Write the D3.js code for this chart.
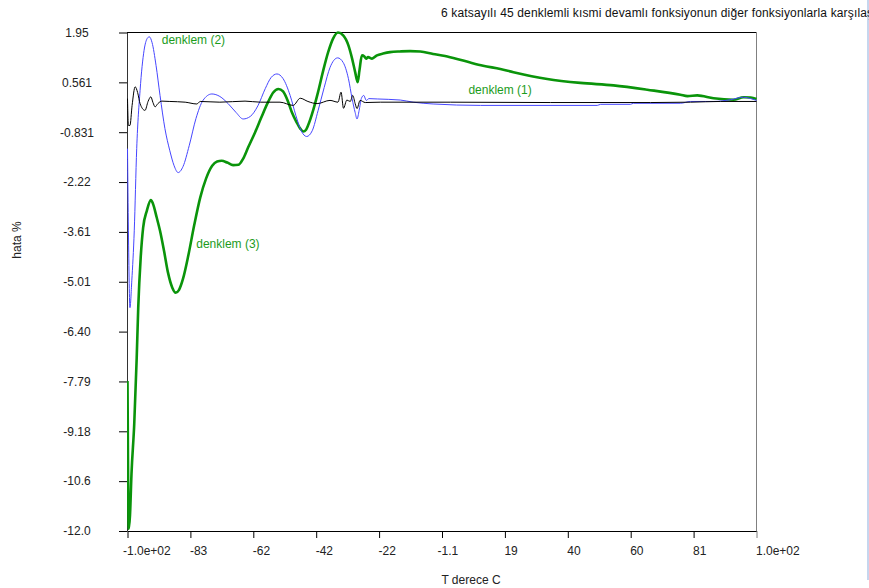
<!DOCTYPE html>
<html>
<head>
<meta charset="utf-8">
<script src="https://cdn.jsdelivr.net/npm/d3@7"></script>
<style>
  body { margin: 0; background: #fff; }
  svg text { font-family: "Liberation Sans", Arial, sans-serif; font-size: 12px; }
</style>
</head>
<body>
<div id="chart"></div>
<script>
// tick labels as printed on the chart
const xTickLabels = ["-1.0e+02", "-83", "-62", "-42", "-22", "-1.1", "19", "40", "60", "81", "1.0e+02"];
const yTickLabels = ["1.95", "0.561", "-0.831", "-2.22", "-3.61", "-5.01", "-6.40", "-7.79", "-9.18", "-10.6", "-12.0"];
const xDomain = [-103.6, 101.4];
const yDomain = [-12.0, 1.95];

const title = "6 katsayılı 45 denklemli kısmi devamlı fonksiyonun diğer fonksiyonlarla karşılaştırılması";

// denklem (1) - black
const denklem1 = [
  [-103.6, 0.10], [-103.3, -0.65], [-102.8, -0.65], [-102.1, -0.09], [-101.1, 0.43],
  [-100.3, 0.27], [-99.5, -0.04], [-97.9, -0.23], [-96.9, 0.02], [-96.0, 0.15],
  [-95.3, -0.01], [-94.6, -0.13], [-93.7, -0.04], [-92.4, 0.03], [-89.8, 0.02],
  [-84.8, 0.00], [-81.0, -0.05], [-79.9, 0.02], [-73.5, 0.00], [-65.3, 0.03],
  [-60.3, 0.00], [-53.9, 0.00], [-49.6, -0.09], [-47.3, 0.11], [-44.8, 0.02],
  [-41.8, -0.04], [-37.6, 0.05], [-35.0, 0.00], [-34.0, 0.28], [-33.2, -0.17],
  [-32.1, 0.06], [-31.0, 0.02], [-30.2, 0.19], [-29.4, -0.04], [-28.8, -0.18],
  [-27.8, 0.05], [-26.1, -0.01], [-21.2, 0.00], [1.6, 0.00], [34.2, -0.01],
  [66.9, -0.01], [79.9, 0.00], [89.6, 0.02], [101.4, 0.02]
];

// denklem (2) - blue
const denklem2 = [
  [-103.6, -1.30], [-103.3, -3.60], [-102.8, -5.75], [-102.2, -5.00], [-101.4, -3.60],
  [-100.6, -1.30], [-99.5, 0.33], [-98.2, 1.45], [-97.2, 1.78], [-96.5, 1.83],
  [-95.6, 1.67], [-94.3, 1.03], [-93.0, 0.19], [-91.4, -0.74], [-89.8, -1.36],
  [-88.4, -1.78], [-87.1, -1.97], [-85.5, -1.80], [-83.5, -1.22], [-81.3, -0.46],
  [-79.0, 0.05], [-76.1, 0.23], [-73.5, 0.16], [-70.8, -0.04], [-68.2, -0.29],
  [-65.9, -0.47], [-63.6, -0.40], [-61.1, -0.10], [-58.7, 0.38], [-56.8, 0.69],
  [-54.9, 0.79], [-52.9, 0.66], [-50.6, 0.19], [-48.7, -0.38], [-47.0, -0.80],
  [-45.2, -0.96], [-43.4, -0.80], [-41.5, -0.24], [-39.5, 0.41], [-37.6, 0.97],
  [-35.1, 1.24], [-33.3, 1.11], [-31.6, 0.66], [-30.4, 0.10], [-29.4, -0.29],
  [-28.8, -0.47], [-28.1, -0.23], [-27.4, 0.10], [-26.6, 0.19], [-25.8, 0.05],
  [-24.9, 0.10], [-22.2, 0.09], [-14.7, 0.06], [-10.5, 0.00], [-4.0, -0.05],
  [11.4, -0.09], [49.5, -0.09], [50.6, -0.06], [60.3, -0.06], [61.3, -0.03],
  [76.6, -0.03], [79.9, 0.02], [87.5, 0.02], [92.9, 0.07], [97.2, 0.14],
  [99.5, 0.10], [101.4, 0.05]
];

// denklem (3) - green
const denklem3 = [
  [-103.6, -7.80], [-103.4, -10.60], [-103.2, -11.94], [-102.8, -11.58], [-102.3, -10.40],
  [-101.4, -9.00], [-100.6, -7.15], [-100.1, -5.75], [-99.3, -4.35], [-98.5, -3.51],
  [-97.3, -3.04], [-96.0, -2.74], [-95.3, -2.84], [-94.1, -3.22], [-93.0, -3.60],
  [-91.7, -4.16], [-90.4, -4.77], [-89.0, -5.19], [-87.9, -5.33], [-86.8, -5.25],
  [-85.5, -4.94], [-83.8, -4.30], [-81.9, -3.46], [-79.9, -2.67], [-78.0, -2.14],
  [-76.0, -1.78], [-74.4, -1.66], [-72.9, -1.64], [-71.1, -1.69], [-69.2, -1.76],
  [-67.4, -1.75], [-65.9, -1.58], [-64.3, -1.27], [-62.0, -0.84], [-60.0, -0.43],
  [-57.8, 0.00], [-56.1, 0.27], [-54.4, 0.37], [-52.9, 0.30], [-51.2, 0.00],
  [-50.0, -0.29], [-48.5, -0.56], [-47.3, -0.74], [-46.3, -0.82], [-45.4, -0.77],
  [-44.8, -0.66], [-43.1, -0.23], [-41.5, 0.28], [-39.8, 0.89], [-38.2, 1.40],
  [-36.6, 1.78], [-35.0, 1.95], [-33.3, 1.87], [-31.6, 1.59], [-30.4, 1.22],
  [-29.4, 0.84], [-28.6, 0.56], [-28.0, 0.89], [-27.2, 1.31], [-26.4, 1.28],
  [-25.8, 1.22], [-25.2, 1.26], [-23.9, 1.22], [-22.3, 1.31], [-20.3, 1.36],
  [-18.0, 1.40], [-14.7, 1.42], [-11.5, 1.43], [-8.2, 1.42], [-4.0, 1.35],
  [-0.1, 1.29], [3.8, 1.21], [8.1, 1.11], [12.3, 1.02], [17.9, 0.93],
  [22.2, 0.84], [33.2, 0.65], [44.0, 0.54], [54.8, 0.47], [65.8, 0.35],
  [76.6, 0.21], [78.9, 0.17], [82.1, 0.19], [87.4, 0.11], [93.9, 0.07],
  [97.2, 0.14], [99.5, 0.13], [101.4, 0.09]
];

// series labels placed inside the plot
const seriesLabels = [
  { text: "denklem (1)", x: 7.5, y: 0.23 },
  { text: "denklem (2)", x: -92.45, y: 1.63 },
  { text: "denklem (3)", x: -81.2, y: -4.09 }
];

const W = 869, H = 588;
const margin = { top: 32, right: 113, bottom: 57, left: 127 };
const width = W - margin.left - margin.right,
      height = H - margin.top - margin.bottom;

const svg = d3.select("#chart")
  .append("svg")
  .attr("width", W)
  .attr("height", H);

// thin light blue strip on the far right edge
svg.append("rect")
  .attr("x", 867).attr("y", 0)
  .attr("width", 2).attr("height", 580)
  .attr("fill", "#c6d6ee");

// title (runs off the right edge, as in the original)
svg.append("text")
  .attr("x", 441)
  .attr("y", 17)
  .attr("fill", "#111")
  .style("letter-spacing", "0.15px")
  .text(title);

const g = svg.append("g")
  .attr("transform", `translate(${margin.left}, ${margin.top})`);

const x = d3.scaleLinear().domain(xDomain).range([0.5, width + 0.5]);
const y = d3.scaleLinear().domain(yDomain).range([height, 0.5]);

const xTicks = xTickLabels.map((d, i) => xDomain[0] + i * (xDomain[1] - xDomain[0]) / 10);
const yTicks = yTickLabels.map((d, i) => yDomain[1] - i * (yDomain[1] - yDomain[0]) / 10);

// frame: top black, right gray
g.append("line")
  .attr("x1", 0).attr("x2", width + 0.5)
  .attr("y1", 0.5).attr("y2", 0.5)
  .attr("stroke", "#000");
g.append("line")
  .attr("x1", width + 0.5).attr("x2", width + 0.5)
  .attr("y1", 0).attr("y2", height)
  .attr("stroke", "#808080");

// Y axis
const yAxis = g.append("g")
  .call(d3.axisLeft(y).tickValues(yTicks).tickFormat((d, i) => yTickLabels[i]).tickSize(8).tickSizeOuter(0));
yAxis.selectAll("text")
  .attr("x", -50)
  .attr("text-anchor", "middle")
  .attr("fill", "#222");
yAxis.select(".domain").attr("stroke", "#333");

// X axis
const xAxis = g.append("g")
  .attr("transform", `translate(0, ${height})`)
  .call(d3.axisBottom(x).tickValues(xTicks).tickFormat((d, i) => xTickLabels[i]).tickSize(7).tickSizeOuter(0));
xAxis.selectAll("text")
  .attr("x", (d, i) => (i === 0 || i === 5) ? -5 : -1)
  .attr("y", 15)
  .attr("text-anchor", "start")
  .attr("fill", "#222");
xAxis.select(".tick:last-of-type line").attr("stroke", "#808080");

// axis titles
svg.append("text")
  .attr("x", 471)
  .attr("y", 584)
  .attr("text-anchor", "middle")
  .attr("fill", "#222")
  .text("T derece C");

svg.append("text")
  .attr("transform", "translate(21, 240) rotate(-90)")
  .attr("text-anchor", "middle")
  .attr("fill", "#222")
  .text("hata %");

// clip lines to the plot area
g.append("clipPath").attr("id", "plotClip")
  .append("rect")
  .attr("x", 0).attr("y", -1)
  .attr("width", width + 1).attr("height", height + 2);

const line = d3.line()
  .x(d => x(d[0]))
  .y(d => y(d[1]))
  .curve(d3.curveMonotoneX);

const plot = g.append("g").attr("clip-path", "url(#plotClip)");

plot.append("path")
  .datum(denklem3)
  .attr("d", line)
  .attr("fill", "none")
  .attr("stroke", "#0a940a")
  .attr("stroke-width", 2.6);

plot.append("path")
  .datum(denklem2)
  .attr("d", line)
  .attr("fill", "none")
  .attr("stroke", "#4646ff")
  .attr("stroke-width", 1);

plot.append("path")
  .datum(denklem1)
  .attr("d", line)
  .attr("fill", "none")
  .attr("stroke", "#000")
  .attr("stroke-width", 1);

// series labels
g.selectAll(".serieslabel")
  .data(seriesLabels)
  .join("text")
  .attr("class", "serieslabel")
  .attr("x", d => x(d.x))
  .attr("y", d => y(d.y))
  .attr("fill", "#1c9c1c")
  .text(d => d.text);
</script>
</body>
</html>
